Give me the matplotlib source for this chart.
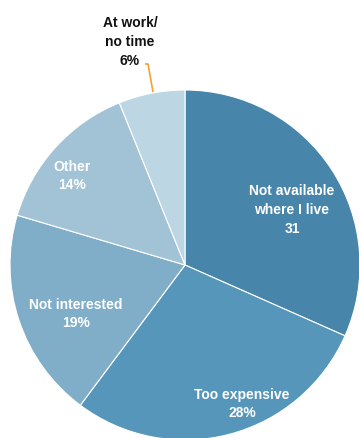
import matplotlib
matplotlib.use("Agg")
import matplotlib.pyplot as plt

# Reasons for not using the service (share of respondents)
categories = ["Not available\nwhere I live", "Too expensive", "Not interested", "Other", "At work/\nno time"]
values = [31, 28, 19, 14, 6]
value_labels = ["31", "28%", "19%", "14%", "6%"]
colors = ["#4786aa", "#5696ba", "#80adc8", "#a2c3d6", "#bdd6e3"]

W, H = 359, 439
fig = plt.figure(figsize=(W / 100, H / 100), dpi=100)
ax = fig.add_axes([0, 0, 1, 1])
ax.set_xlim(0, W)
ax.set_ylim(0, H)
ax.set_aspect("equal")
ax.axis("off")

cx, cy, r = 185, H - 266, 175
ax.pie(values, colors=colors, startangle=90, counterclock=False,
       center=(cx, cy), radius=r, frame=True,
       wedgeprops=dict(edgecolor="white", linewidth=0.8))
ax.set_xlim(0, W)
ax.set_ylim(0, H)
ax.axis("off")

font = dict(family=["Liberation Sans", "DejaVu Sans"], fontsize=10,
            fontweight="bold", ha="center", va="center", linespacing=1.45)

# In-slice labels (pixel positions from the top-left)
inside = [(292, 210), (242, 404), (76, 314), (72, 176)]
for (x, y), cat, lab in zip(inside, categories[:4], value_labels[:4]):
    ax.text(x, H - y, f"{cat}\n{lab}", color="white", **font)

# Outside label with leader line for the small slice
ax.text(130, H - 42, f"{categories[4]}\n{value_labels[4]}", color="#111111", **font)
ax.plot([145, 148, 153], [H - 65, H - 65, H - 93], color="#f5a033", linewidth=1.2,
        solid_capstyle="butt")

fig.savefig("out.png", dpi=100)
